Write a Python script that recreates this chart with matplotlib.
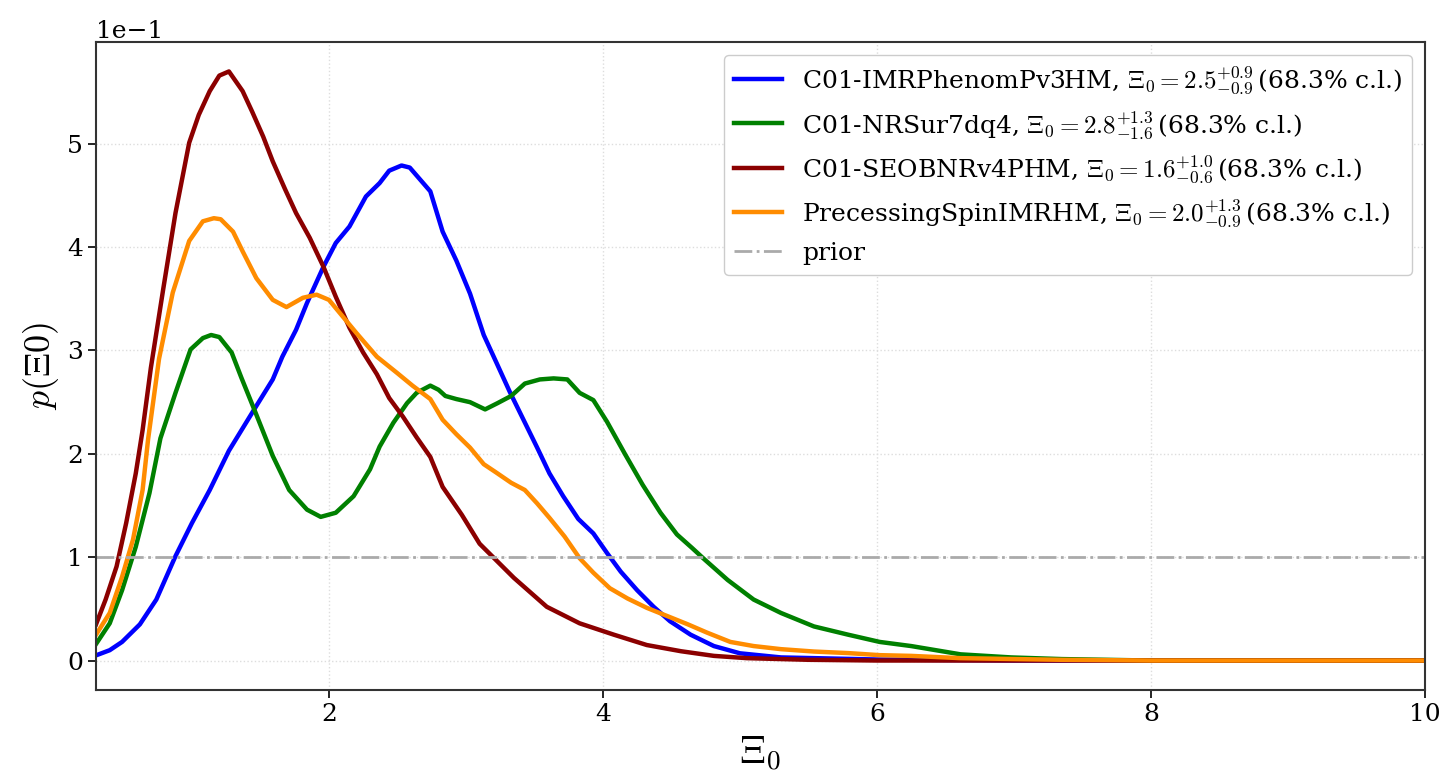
import numpy as np
import matplotlib.pyplot as plt

# Posterior densities on Xi_0
x_imr = [0.30, 0.40, 0.49, 0.62, 0.74, 0.88, 1.00, 1.13, 1.27, 1.45, 1.59, 1.66, 1.76, 1.84,
         1.96, 2.05, 2.15, 2.27, 2.37, 2.44, 2.53, 2.59, 2.74, 2.83, 2.93, 3.03, 3.13, 3.22,
         3.32, 3.42, 3.52, 3.61, 3.71, 3.82, 3.93, 4.03, 4.13, 4.25, 4.37, 4.49, 4.64, 4.81,
         5.00, 5.30, 6.00, 7.00, 8.00, 10.0]
p_imr = [0.005, 0.010, 0.018, 0.035, 0.059, 0.101, 0.133, 0.165, 0.203, 0.242, 0.272, 0.294,
         0.320, 0.346, 0.381, 0.404, 0.420, 0.449, 0.462, 0.474, 0.479, 0.477, 0.454, 0.415,
         0.387, 0.355, 0.315, 0.289, 0.260, 0.233, 0.206, 0.181, 0.159, 0.137, 0.123, 0.104,
         0.086, 0.068, 0.052, 0.038, 0.025, 0.014, 0.007, 0.003, 0.001, 0.0, 0.0, 0.0]

x_nrs = [0.30, 0.40, 0.49, 0.59, 0.69, 0.77, 0.88, 0.99, 1.08, 1.14, 1.20, 1.29, 1.36, 1.47,
         1.59, 1.71, 1.84, 1.94, 2.05, 2.18, 2.30, 2.37, 2.47, 2.57, 2.64, 2.74, 2.80, 2.85,
         2.93, 3.03, 3.14, 3.23, 3.33, 3.43, 3.54, 3.64, 3.74, 3.83, 3.93, 4.03, 4.16, 4.29,
         4.42, 4.54, 4.65, 4.74, 4.91, 5.10, 5.30, 5.54, 5.79, 6.02, 6.25, 6.61, 6.98, 7.35,
         8.00, 10.0]
p_nrs = [0.016, 0.036, 0.068, 0.110, 0.162, 0.215, 0.259, 0.301, 0.312, 0.315, 0.313, 0.298,
         0.274, 0.238, 0.198, 0.165, 0.146, 0.139, 0.143, 0.159, 0.185, 0.207, 0.230, 0.249,
         0.259, 0.266, 0.262, 0.256, 0.253, 0.250, 0.243, 0.249, 0.256, 0.268, 0.272, 0.273,
         0.272, 0.259, 0.252, 0.231, 0.200, 0.170, 0.143, 0.122, 0.109, 0.098, 0.078, 0.059,
         0.046, 0.033, 0.025, 0.018, 0.014, 0.006, 0.003, 0.0014, 0.0, 0.0]

x_seob = [0.30, 0.37, 0.45, 0.52, 0.59, 0.64, 0.70, 0.79, 0.88, 0.98, 1.05, 1.13, 1.20, 1.27,
          1.37, 1.44, 1.52, 1.59, 1.68, 1.76, 1.86, 1.96, 2.05, 2.15, 2.25, 2.35, 2.44, 2.54,
          2.64, 2.74, 2.83, 2.97, 3.10, 3.35, 3.59, 3.83, 4.08, 4.32, 4.57, 4.81, 5.05, 5.50,
          6.00, 8.00, 10.0]
p_seob = [0.035, 0.059, 0.091, 0.133, 0.181, 0.223, 0.283, 0.359, 0.433, 0.501, 0.528, 0.551,
          0.566, 0.570, 0.551, 0.531, 0.507, 0.483, 0.456, 0.433, 0.409, 0.381, 0.352, 0.322,
          0.298, 0.277, 0.254, 0.236, 0.216, 0.197, 0.168, 0.141, 0.113, 0.080, 0.052, 0.036,
          0.025, 0.015, 0.009, 0.0045, 0.0023, 0.0007, 0.0, 0.0, 0.0]

x_psi = [0.30, 0.40, 0.49, 0.57, 0.64, 0.68, 0.76, 0.86, 0.98, 1.08, 1.16, 1.21, 1.30, 1.37,
         1.47, 1.59, 1.69, 1.81, 1.91, 2.00, 2.10, 2.20, 2.35, 2.50, 2.61, 2.74, 2.83, 2.93,
         3.03, 3.13, 3.22, 3.33, 3.43, 3.52, 3.61, 3.72, 3.83, 3.93, 4.05, 4.18, 4.32, 4.47,
         4.62, 4.76, 4.93, 5.10, 5.30, 5.54, 5.79, 6.02, 6.25, 6.61, 7.35, 8.00, 10.0]
p_psi = [0.025, 0.046, 0.081, 0.117, 0.165, 0.214, 0.292, 0.356, 0.406, 0.425, 0.428, 0.427,
         0.415, 0.396, 0.370, 0.349, 0.342, 0.351, 0.354, 0.349, 0.333, 0.317, 0.294, 0.278,
         0.266, 0.253, 0.233, 0.219, 0.206, 0.190, 0.182, 0.172, 0.165, 0.152, 0.138, 0.120,
         0.099, 0.085, 0.070, 0.060, 0.051, 0.043, 0.035, 0.027, 0.018, 0.014, 0.011, 0.0087,
         0.0072, 0.0052, 0.0045, 0.0023, 0.0007, 0.0, 0.0]

x_prior = [0.3, 10.0]
p_prior = [0.1, 0.1]

labels = [r'C01-IMRPhenomPv3HM, $\Xi_0 = 2.5^{+0.9}_{-0.9}\,$(68.3% c.l.)',
          r'C01-NRSur7dq4, $\Xi_0 = 2.8^{+1.3}_{-1.6}\,$(68.3% c.l.)',
          r'C01-SEOBNRv4PHM, $\Xi_0 = 1.6^{+1.0}_{-0.6}\,$(68.3% c.l.)',
          r'PrecessingSpinIMRHM, $\Xi_0 = 2.0^{+1.3}_{-0.9}\,$(68.3% c.l.)']
colors = ['#0000ff', '#008000', '#8b0000', '#ff8c00']

plt.rcParams['font.family'] = ['DejaVu Serif']
plt.rcParams['mathtext.fontset'] = 'cm'

fig = plt.figure(figsize=(14.44, 7.75), dpi=100)
ax = fig.add_axes([0.0665, 0.1097, 0.9203, 0.8361])

series = [(x_imr, p_imr), (x_nrs, p_nrs), (x_seob, p_seob), (x_psi, p_psi)]
for (xs, ps), c, lab in zip(series, colors, labels):
    ax.plot(xs, ps, color=c, lw=3.2, label=lab)
ax.plot(x_prior, p_prior, color='#aaaaaa', lw=2, ls='-.', label='prior')

ax.set_xlim(0.3, 10)
ax.ticklabel_format(axis='y', style='sci', scilimits=(0, 0))
ax.yaxis.get_offset_text().set_fontsize(18)
ax.tick_params(labelsize=18, length=6, width=1.2)
for s in ax.spines.values():
    s.set_color('#333333')
    s.set_linewidth(1.5)
ax.grid(True, ls=':', color='#dddddd', lw=1)

ax.set_xlabel(r'$\Xi_0$', fontsize=28, labelpad=6)
ax.set_ylabel(r'$p(\Xi0)$', fontsize=26)

ax.legend(loc='upper right', fontsize=18, handlelength=1.9, labelspacing=0.5,
          framealpha=1, edgecolor='#cccccc')

fig.savefig('out.png', dpi=100)
